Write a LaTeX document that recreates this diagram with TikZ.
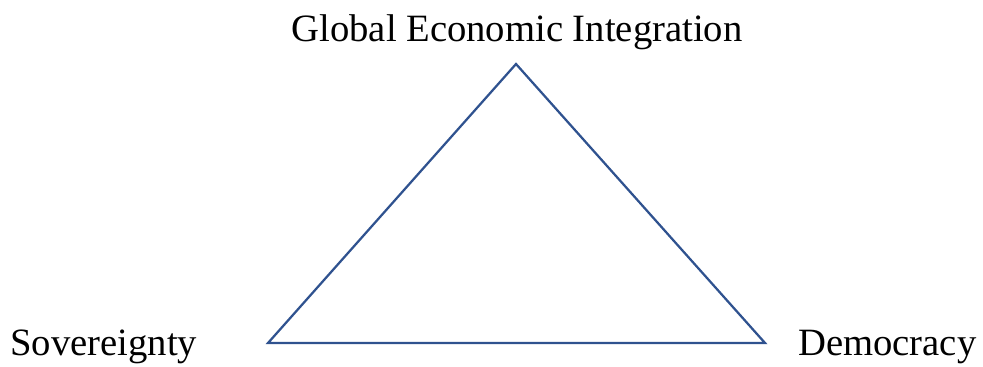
\documentclass[tikz,border=0pt]{standalone}
\usepackage{fontspec}
\setmainfont{Liberation Serif}
\usepackage{xcolor}
\usetikzlibrary{positioning}
\definecolor{trilemmaBlue}{RGB}{47,82,143}

\begin{document}
\begin{tikzpicture}[
  cornerlabel/.style={font=\fontsize{27.5}{32}\selectfont, inner sep=0pt, text=black},
  triangleline/.style={trilemmaBlue, line width=1.6pt, line join=miter}
]
\useasboundingbox (0,0) rectangle (24.575,9.15);
% corners of the triangle
\coordinate (apex) at (12.9,7.55);
\coordinate (left) at (6.7,0.575);
\coordinate (right) at (19.125,0.575);
\draw[triangleline] (apex) -- (right) -- (left) -- cycle;
% labels
\node[cornerlabel, anchor=base] (integration) at (12.925,8.12) {Global Economic Integration};
\node[cornerlabel, anchor=base west] (sovereignty) at (0.25,0.27) {Sovereignty};
\node[cornerlabel, anchor=base west] (democracy) at (19.95,0.27) {Democracy};
\end{tikzpicture}
\end{document}
